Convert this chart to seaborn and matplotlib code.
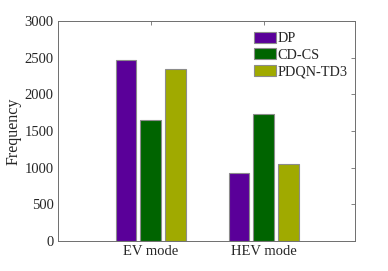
import pandas as pd
import matplotlib
matplotlib.use("Agg")
import matplotlib.pyplot as plt
import seaborn as sns

# Values
modes = ["EV mode", "HEV mode"]
methods = ["DP", "CD-CS", "PDQN-TD3"]
dp_freq = [2464, 927]
cdcs_freq = [1654, 1727]
pdqn_freq = [2341, 1054]

colors = ["#5a0099", "#006400", "#a0aa00"]

df = pd.DataFrame({
    "Mode": modes * 3,
    "Method": [m for m in methods for _ in modes],
    "Frequency": dp_freq + cdcs_freq + pdqn_freq,
})

sns.set_style("white")
plt.rcParams["font.family"] = ["Liberation Serif", "DejaVu Serif"]
plt.rcParams["font.size"] = 10

fig = plt.figure(figsize=(3.88, 2.71), dpi=100)
ax = fig.add_axes([0.1495, 0.1107, 0.9155 - 0.1495, 0.9225 - 0.1107])

sns.barplot(data=df, x="Mode", y="Frequency", hue="Method", order=modes,
            hue_order=methods, palette=colors, width=0.66, gap=0.18,
            edgecolor="#8c8c8c", linewidth=0.8, saturation=1, ax=ax)

ax.set_xlim(-0.82, 1.81)
ax.set_ylim(0, 3000)
ax.set_yticks(range(0, 3001, 500))
ax.set_xlabel("")
ax.set_ylabel("Frequency", fontsize=11.5, labelpad=2)

for s in ax.spines.values():
    s.set_visible(True)
    s.set_color("#6e6e6e")
    s.set_linewidth(0.7)
ax.tick_params(direction="in", length=3, width=0.6, color="#6e6e6e",
               top=True, right=True, labelsize=10.5, pad=3)

leg = ax.legend(loc="upper left", bbox_to_anchor=(0.66, 0.952), frameon=False,
                fontsize=10.3, handlelength=1.55, handleheight=0.85,
                labelspacing=0.2, handletextpad=0.1, borderpad=0,
                borderaxespad=0)
for h in leg.legend_handles:
    h.set_edgecolor("#8c8c8c")

fig.savefig("out.png", dpi=100)
